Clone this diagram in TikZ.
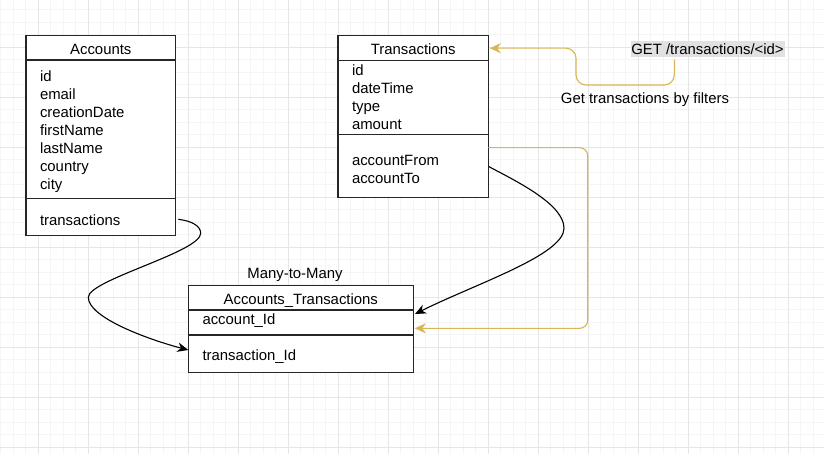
\documentclass[tikz,border=0pt]{standalone}
\usepackage{fontspec}
\setmainfont{Liberation Sans}
\usetikzlibrary{arrows.meta}
\definecolor{gmajor}{HTML}{E6E6E6}
\definecolor{gminor}{HTML}{F5F5F5}
\definecolor{ylw}{HTML}{D6B656}
\definecolor{lblbg}{HTML}{E1E1E1}
\definecolor{boxline}{HTML}{262626}
\begin{document}
\begin{tikzpicture}[x=1pt,y=-1pt,
  cell/.style={draw=boxline, line width=1.2pt, fill=white, inner sep=0pt, outer sep=0pt, anchor=north west},
  txt/.style={inner sep=0pt, outer sep=0pt, font=\fontsize{14.9}{18}\selectfont, text=black},
  attr/.style={txt, anchor=base west},
  head/.style={txt, anchor=base},
  blk/.style={draw=black, line width=1.1pt},
  ylwline/.style={draw=ylw, line width=1.1pt}
]
\useasboundingbox (0,0) rectangle (824,454);
\fill[white] (0,0) rectangle (824,454);
% grid
\begin{scope}
\clip (0,0) rectangle (824,454);
\foreach \k in {0,...,66} \draw[gminor, line width=0.8pt] (0.8+12.5*\k,0) -- (0.8+12.5*\k,454);
\foreach \k in {0,...,36} \draw[gminor, line width=0.8pt] (0,9.8+12.5*\k) -- (824,9.8+12.5*\k);
\foreach \k in {0,...,16} \draw[gmajor, line width=0.9pt] (38.3+50*\k,0) -- (38.3+50*\k,454);
\foreach \k in {0,...,9} \draw[gmajor, line width=0.9pt] (0,-2.7+50*\k) -- (824,-2.7+50*\k);
\end{scope}

% Accounts
\node[cell, minimum width=149.7pt, minimum height=24.3pt] (accHead) at (26,35.7) {};
\node[cell, minimum width=149.7pt, minimum height=138.3pt] (accAttr) at (26,60) {};
\node[cell, minimum width=149.7pt, minimum height=37pt] (accRel) at (26,198.3) {};
\node[head] (accTitle) at (100.8,54.3) {Accounts};
\node[attr] (accId) at (40,81.5) {id};
\node[attr] (accEmail) at (40,99.5) {email};
\node[attr] (accCreation) at (40,117.5) {creationDate};
\node[attr] (accFirst) at (40,135.5) {firstName};
\node[attr] (accLast) at (40,153.5) {lastName};
\node[attr] (accCountry) at (40,171.5) {country};
\node[attr] (accCity) at (40,189.5) {city};
\node[attr] (accTrans) at (40,225.3) {transactions};

% Transactions
\node[cell, minimum width=150.3pt, minimum height=25pt] (trHead) at (338,35.7) {};
\node[cell, minimum width=150.3pt, minimum height=73.6pt] (trAttr) at (338,60.7) {};
\node[cell, minimum width=150.3pt, minimum height=63.4pt] (trRel) at (338,134.3) {};
\node[head] (trTitle) at (413.2,54.5) {Transactions};
\node[attr] (trId) at (352,75.5) {id};
\node[attr] (trDate) at (352,93.5) {dateTime};
\node[attr] (trType) at (352,111.5) {type};
\node[attr] (trAmount) at (352,129.5) {amount};
\node[attr] (trFrom) at (352,165.5) {accountFrom};
\node[attr] (trTo) at (352,183.5) {accountTo};

% Accounts_Transactions
\node[head] (many) at (295,278.5) {Many-to-Many};
\node[cell, minimum width=225pt, minimum height=24.3pt] (atHead) at (188.3,285.7) {};
\node[cell, minimum width=225pt, minimum height=25pt] (atAttr) at (188.3,310) {};
\node[cell, minimum width=225pt, minimum height=37.7pt] (atRel) at (188.3,335) {};
\node[head] (atTitle) at (300.8,304.5) {Accounts\_Transactions};
\node[attr] (atAcc) at (202.5,324.3) {account\_Id};
\node[attr] (atTr) at (202.5,360.3) {transaction\_Id};

% GET label
\node[fill=lblbg, inner sep=0pt, outer sep=0pt, minimum width=154pt, minimum height=16pt, anchor=north west] (get) at (631,40.7) {};
\node[attr] (getTxt) at (631.3,54.7) {GET /transactions/<id>};
\node[head] (filters) at (645,103.5) {Get transactions by filters};

% connectors
\draw[ylwline, rounded corners=10pt, shorten <=3pt, -{Stealth[length=11pt,width=10pt,inset=3.5pt]}] ([xshift=-33.7pt]get.south) |- (576,85) |- ([xshift=1.5pt]trHead.east);
\draw[ylwline, rounded corners=8pt, -{Stealth[length=11pt,width=10pt,inset=3.5pt]}] ([yshift=18.3pt]trRel.east) -- (587.7,147.7) -- (587.7,328.3) -- ([xshift=1.5pt,yshift=-5.8pt]atAttr.east);
\draw[blk, -{Stealth[length=11pt,width=9.5pt,inset=3.5pt]}] ([xshift=2.6pt,yshift=-2.5pt]accRel.east) .. controls (192,221) and (200.7,226) .. (200.7,233.3)
  .. controls (200.7,252) and (88.3,280) .. (88.3,297.3)
  .. controls (88.3,318) and (150,340) .. ([yshift=3.85pt]atRel.west);
\draw[blk, -{Stealth[length=11pt,width=9.5pt,inset=3.5pt]}] ([xshift=0.7pt,yshift=-0.7pt]trRel.east) .. controls (520,183) and (564,205) .. (564,228.3)
  .. controls (564,255) and (475,284) .. ([xshift=1.7pt,yshift=8.5pt]atAttr.east);
\end{tikzpicture}
\end{document}
